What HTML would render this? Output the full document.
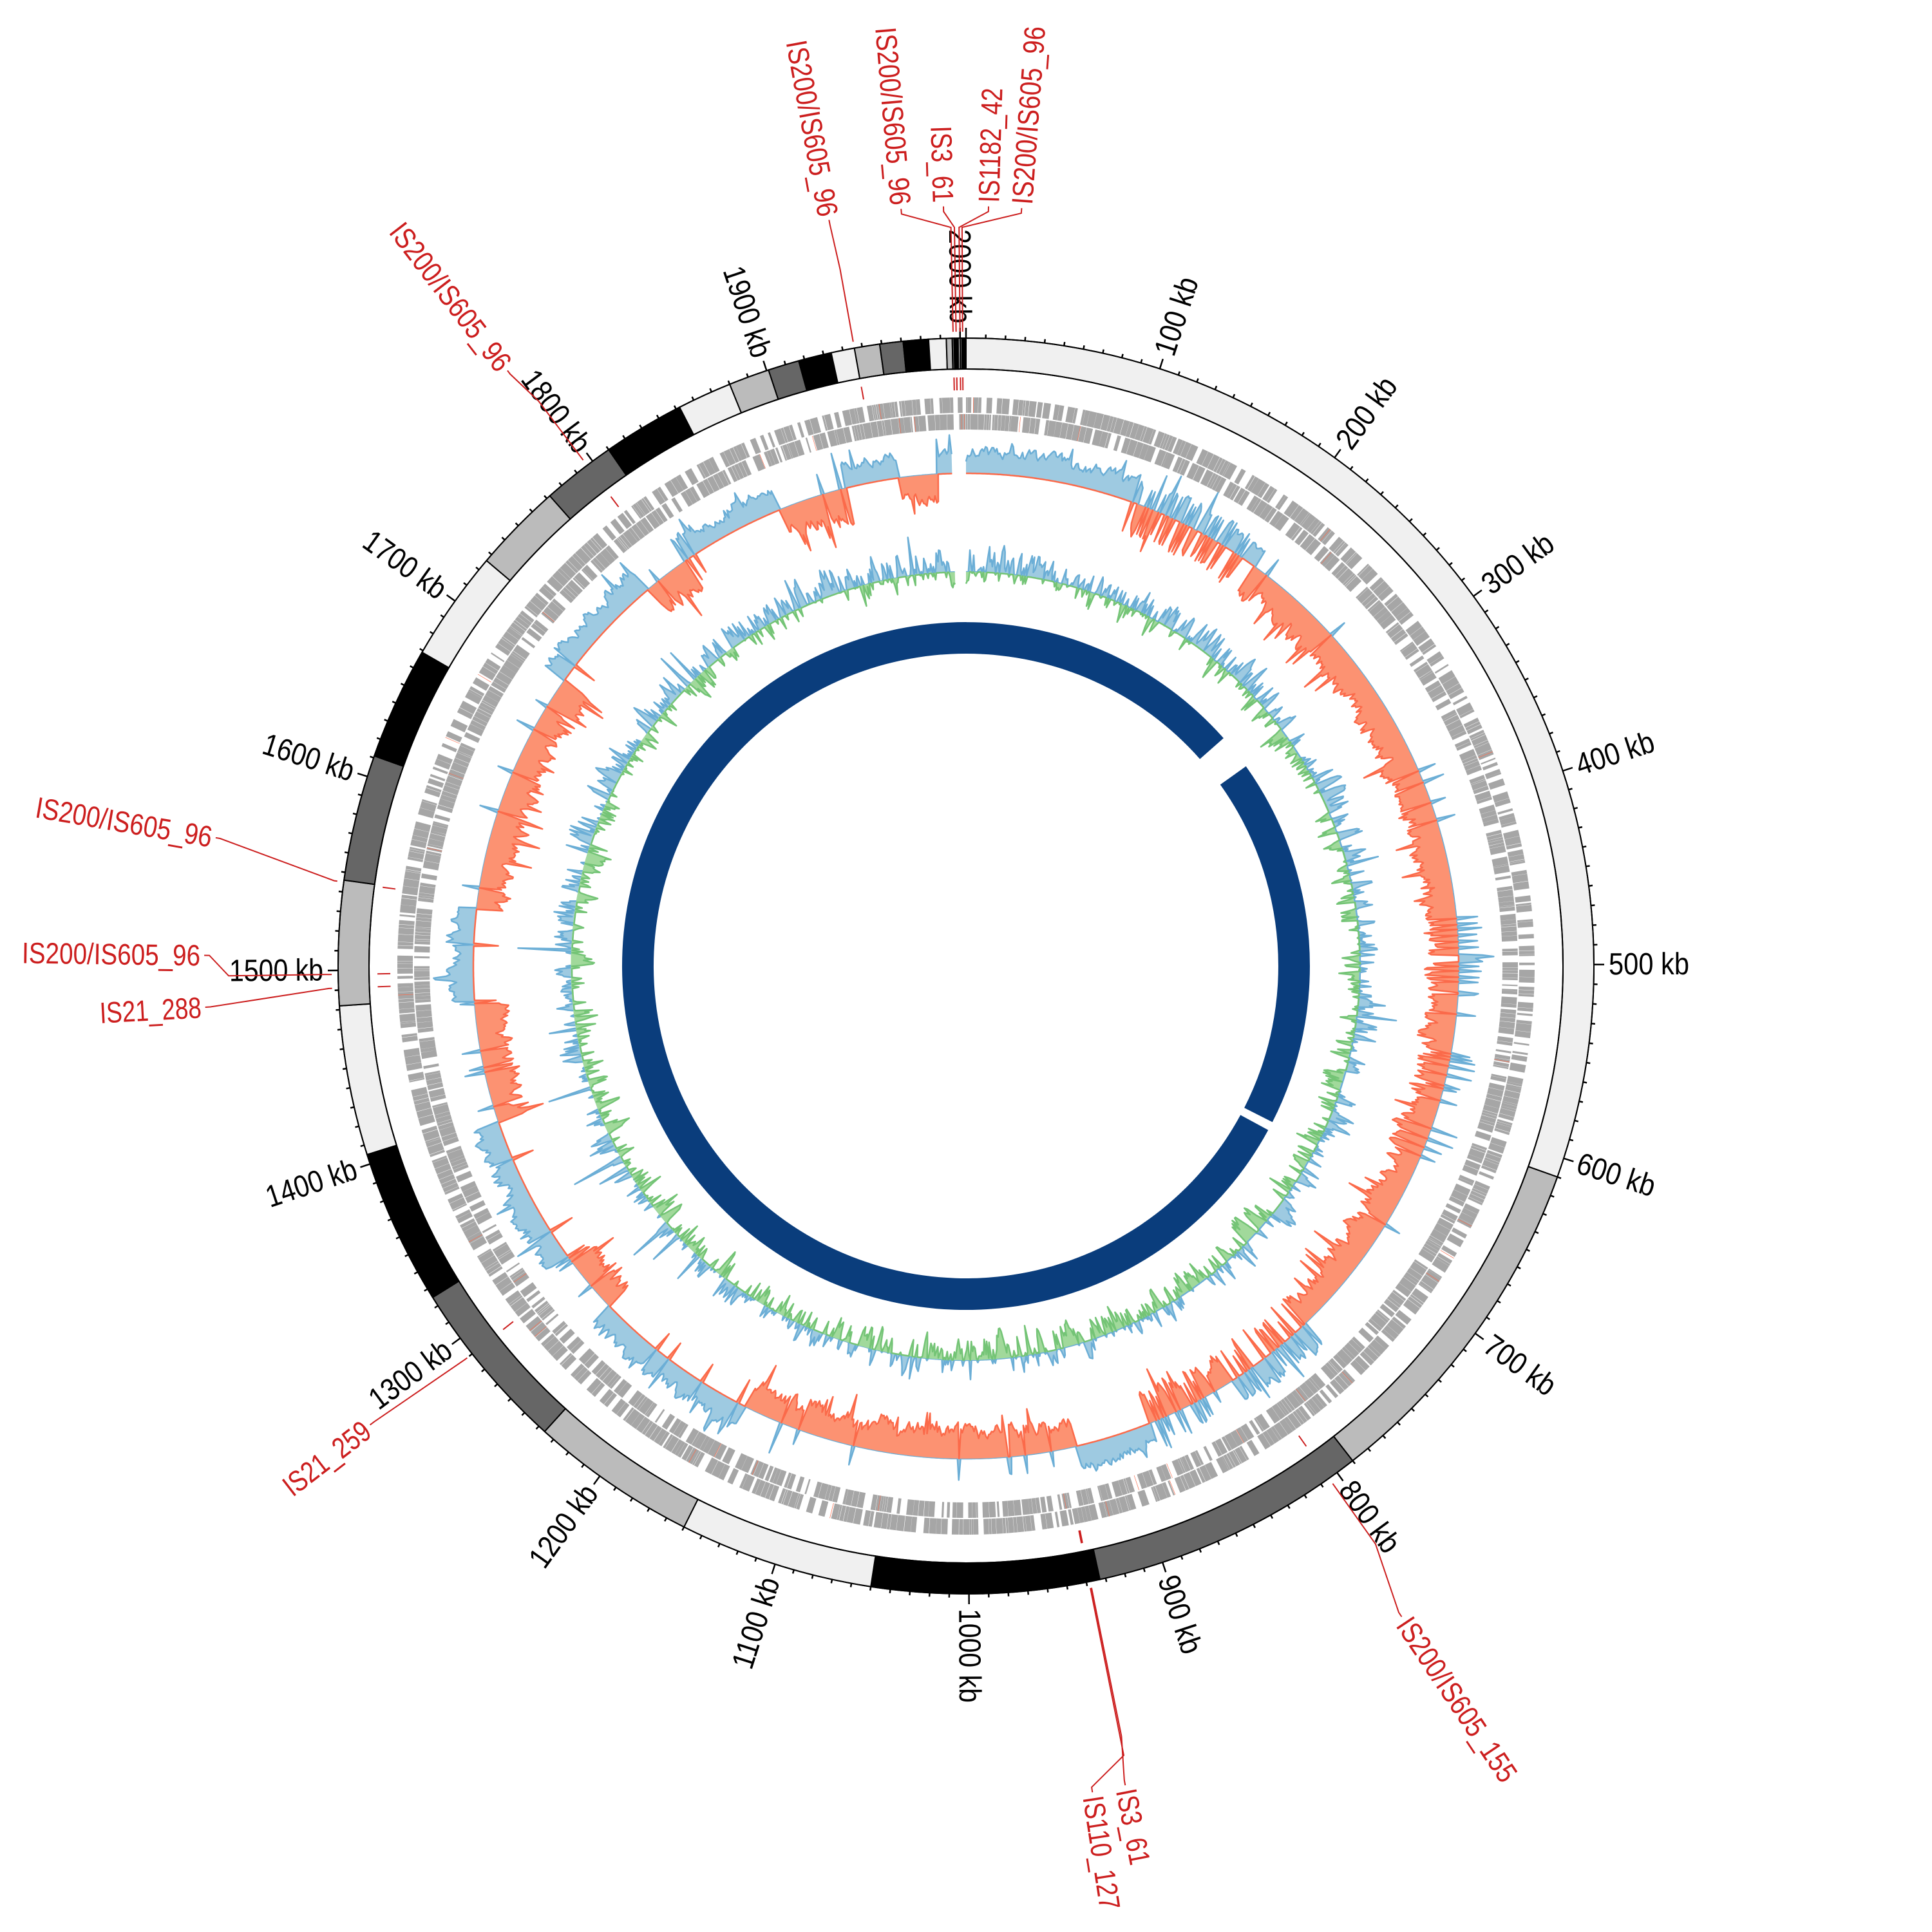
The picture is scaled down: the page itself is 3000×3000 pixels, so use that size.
<!DOCTYPE html>
<html><head><meta charset="utf-8"><style>html,body{margin:0;padding:0;background:#fff}svg{display:block}</style></head>
<body>
<svg id="s" xmlns="http://www.w3.org/2000/svg" width="3000" height="3000" viewBox="0 0 3000 3000">
<rect width="3000" height="3000" fill="#fff"/>
<g id="g"></g>
</svg>
<script>
(function(){
var cx=1500,cy=1500,L=2003,NS="http://www.w3.org/2000/svg";
var g=document.getElementById('g');
function D(k){return k*360/L;}
function P(r,a){var t=(a-90)*Math.PI/180;return [cx+r*Math.cos(t),cy+r*Math.sin(t)];}
function f(n){return n.toFixed(1);}
function arc(r1,r2,a1,a2){var la=(a2-a1)>180?1:0;var p1=P(r2,a1),p2=P(r2,a2),p3=P(r1,a2),p4=P(r1,a1);
return 'M'+f(p1[0])+' '+f(p1[1])+'A'+r2+' '+r2+' 0 '+la+' 1 '+f(p2[0])+' '+f(p2[1])+'L'+f(p3[0])+' '+f(p3[1])+'A'+r1+' '+r1+' 0 '+la+' 0 '+f(p4[0])+' '+f(p4[1])+'Z';}
function quad(r1,r2,a1,a2){var p1=P(r2,a1),p2=P(r2,a2),p3=P(r1,a2),p4=P(r1,a1);
return 'M'+f(p1[0])+' '+f(p1[1])+'L'+f(p2[0])+' '+f(p2[1])+'L'+f(p3[0])+' '+f(p3[1])+'L'+f(p4[0])+' '+f(p4[1])+'Z';}
function el(tag,attrs,txt){var e=document.createElementNS(NS,tag);for(var k in attrs)e.setAttribute(k,attrs[k]);if(txt!==undefined)e.textContent=txt;g.appendChild(e);return e;}
var seed=12345;function rnd(){seed=(seed*16807)%2147483647;return (seed-1)/2147483646;}

var segs=[[0,610,'#f0f0f0'],[610,790,'#bbbbbb'],[790,933,'#666666'],[933,1050,'#000'],[1050,1150,'#f0f0f0'],[1150,1236,'#bbbbbb'],[1236,1325,'#666666'],[1325,1405,'#000'],[1405,1482,'#f0f0f0'],[1482,1546,'#bbbbbb'],[1546,1611,'#666666'],[1611,1669,'#000'],[1669,1726,'#f0f0f0'],[1726,1772,'#bbbbbb'],[1772,1810,'#666666'],[1810,1852,'#000'],[1852,1880,'#f0f0f0'],[1880,1901,'#bbbbbb'],[1901,1917,'#666666'],[1917,1934,'#000'],[1934,1946,'#f0f0f0'],[1946,1959,'#bbbbbb'],[1959,1971,'#666666'],[1971,1984,'#000'],[1984,1993,'#f0f0f0'],[1993,1996,'#bbbbbb'],[1996,1997,'#666666'],[1997,1999,'#000'],[1999,2000,'#f0f0f0'],[2000,2001,'#666666'],[2001,2003,'#000']];
segs.forEach(function(s){el('path',{d:arc(927,975,D(s[0]),D(s[1])),fill:s[2],stroke:'#000','stroke-width':2});});
el('circle',{cx:cx,cy:cy,r:975,fill:'none',stroke:'#000','stroke-width':2});
el('circle',{cx:cx,cy:cy,r:927,fill:'none',stroke:'#000','stroke-width':2});

var td='';
for(var k=0;k<L;k+=10){var a=D(k);var len=(k%100==0)?16:6;var p1=P(975,a),p2=P(975+len,a);td+='M'+f(p1[0])+' '+f(p1[1])+'L'+f(p2[0])+' '+f(p2[1]);}
el('path',{d:td,stroke:'#000','stroke-width':2.5,fill:'none'});
for(var k=100;k<=2000;k+=100){var a=D(k);var p=P(998,a);var right=a<180;var rot=right?a-90:a+90;
el('text',{x:f(p[0]),y:f(p[1]),'text-anchor':right?'start':'end','dominant-baseline':'central',transform:'rotate('+f(rot)+' '+f(p[0])+' '+f(p[1])+')','font-family':'Liberation Sans Narrow, Liberation Sans, sans-serif','font-size':48,fill:'#000',textLength:((String(k).length+3)*20.8).toFixed(0),lengthAdjust:'spacingAndGlyphs'},k+' kb');}

function genes(r1,r2,dens,seedv){seed=seedv;var d='';var p=0;while(p<L-0.5){var len=0.8+rnd()*3.5;var gap=rnd()<dens?(0.05+rnd()*0.15):(0.6+rnd()*4);var a1=D(p),a2=D(Math.min(p+len,L-0.2));d+=quad(r1,r2,a1,a2);p+=len+gap;}
el('path',{d:d,fill:'#a6a6a6'});}
genes(859,883,0.7,777);
genes(833,857,0.7,999);
seed=4242;var od='';for(var i=0;i<40;i++){var k=rnd()*L;var r=rnd()<0.5?[859,883]:[833,857];od+=quad(r[0],r[1],D(k),D(k+0.25));}
el('path',{d:od,fill:'#fb6a4a'});

var reg=[[0,110,1],[110,200,0.3],[200,470,-1],[470,520,-0.3],[520,620,-0.8],[620,760,-1],[760,820,0.6],[820,880,-0.5],[880,930,1],[930,1150,-1],[1150,1260,1],[1260,1300,-1],[1300,1400,1],[1400,1480,-1],[1480,1540,1],[1540,1700,-1],[1700,1780,1],[1780,1810,-1],[1810,1880,1],[1880,1925,-1],[1925,1960,1],[1960,1985,-1],[1985,1995,1]];
function sg(k){for(var i=0;i<reg.length;i++)if(k>=reg[i][0]&&k<reg[i][1])return reg[i][2];return null;}
seed=31337;var vals=[];var sm=0;
for(var k=0;k<L;k+=1){var s=sg(k);if(s===null){vals.push(null);continue;}sm=sm*0.6+rnd()*0.4;var v;var mag=(0.35+0.9*sm)*(rnd()<0.06?1.6:1);
if(Math.abs(s)<1){v=(rnd()<(0.5+s/2)?1:-1)*mag;}else{v=s*mag; if(rnd()<0.03)v=-v*0.8;}
vals.push(v);}
function areaPath(base,arr,sign,scale,lineOnly){var d='';var i=0,n=arr.length;
while(i<n){if(arr[i]===null){i++;continue;}var st=i;var pts=[];
while(i<n&&arr[i]!==null){var v=arr[i];var vv=sign>0?Math.max(v,0):Math.min(v,0);pts.push(P(base+vv*scale,D(i)));i++;}
var en=i-1;var q0=P(base,D(st)),q1=P(base,D(en));
if(lineOnly){d+='M'+f(pts[0][0])+' '+f(pts[0][1]);for(var j=1;j<pts.length;j++)d+='L'+f(pts[j][0])+' '+f(pts[j][1]);continue;}
d+='M'+f(q0[0])+' '+f(q0[1]);for(var j=0;j<pts.length;j++)d+='L'+f(pts[j][0])+' '+f(pts[j][1]);
var large=(D(en)-D(st))>180?1:0;
d+='L'+f(q1[0])+' '+f(q1[1])+'A'+base+' '+base+' 0 '+large+' 0 '+f(q0[0])+' '+f(q0[1])+'Z';}
return d;}
function track(base,arr,sign,scale,fill,stroke){el('path',{d:areaPath(base,arr,sign,scale,false),fill:fill});
el('path',{d:areaPath(base,arr,sign,scale,true),fill:'none',stroke:stroke,'stroke-width':2.5,'stroke-linejoin':'round'});}
track(765,vals,1,42,'#9ecae1','#6baed6');
track(765,vals,-1,52,'#fc9272','#fb6a4a');

seed=2024;var gv=[];var sm2=0;
for(var k=0;k<L;k+=1){if(k>1994){gv.push(null);continue;}sm2=sm2*0.5+(rnd()-0.5)*0.9;var v=sm2*1.4;if(rnd()<0.04)v+=(rnd()-0.4)*2.6;
var bias=Math.cos(D(k)*Math.PI/180)*0.15;gv.push(v+bias);}
track(612,gv,1,40,'#9ecae1','#6baed6');
track(612,gv,-1,40,'#a1d99b','#74c476');

el('path',{d:arc(485,534,54.5,117),fill:'#0a3d7c'});
el('path',{d:arc(485,534,118.5,408.5),fill:'#0a3d7c'});

var marks=[1996.5,1998,2000,2001.3,1946,1796.5,1545,1498,1491,1290,805,938,938.6];
var md='';marks.forEach(function(k){md+=quad(894,914,D(k-0.35),D(k+0.35));});
el('path',{d:md,fill:'#cc1e1e'});

var RED='#cc1e1e';
var labs=[
 ['IS200/IS605_96',1996.5,355.1,1147,1172,1180],
 ['IS3_61',1998,358.3,1147,1172,1180],
 ['IS1182_42',2000,1.7,1147,1172,1180],
 ['IS200/IS605_96',2001.3,4.2,1147,1172,1180],
 ['IS200/IS605_96',1946,349.6,1100,1170,1178],
 ['IS200/IS605_96',1796.5,322.4,1100,1160,1167],
 ['IS200/IS605_96',1545,279.7,990,1175,1182],
 ['IS200/IS605_96',1498,270.8,1145,1175,1183],
 ['IS21_288',1491,266.9,990,1175,1183],
 ['IS21_259',1290,232.4,990,1160,1168],
 ['IS200/IS605_155',805,146.2,1100,1208,1216],
 ['IS3_61',938,169.0,1220,1288,1296],
 ['IS110_127',938.6,171.3,1250,1290,1298]
];
labs.forEach(function(l){var fa=D(l[1]),la=l[2];
var p0=P(985,fa),p1=P(l[3],fa),p2=P(l[4],la),p3=P(l[5],la);
el('path',{d:'M'+f(p0[0])+' '+f(p0[1])+'L'+f(p1[0])+' '+f(p1[1])+'L'+f(p2[0])+' '+f(p2[1])+'L'+f(p3[0])+' '+f(p3[1]),fill:'none',stroke:RED,'stroke-width':2});
var pt=P(l[5]+6,la);var right=la<180;var rot=right?la-90:la+90;
el('text',{x:f(pt[0]),y:f(pt[1]),'text-anchor':right?'start':'end','dominant-baseline':'central',transform:'rotate('+f(rot)+' '+f(pt[0])+' '+f(pt[1])+')','font-family':'Liberation Sans Narrow, Liberation Sans, sans-serif','font-size':46,fill:RED,textLength:(l[0].length*19.8).toFixed(0),lengthAdjust:'spacingAndGlyphs'},l[0]);
});
})();
</script>
</body></html>
